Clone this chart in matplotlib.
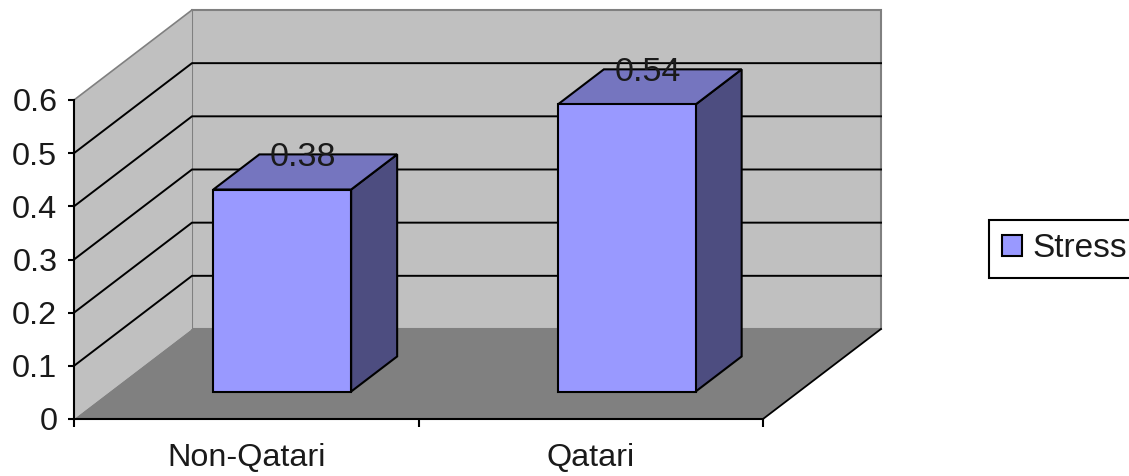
import matplotlib.pyplot as plt
from matplotlib.patches import Polygon, Patch

plt.rcParams['font.family'] = ['Liberation Sans', 'DejaVu Sans']

categories = ['Non-Qatari', 'Qatari']
stress = [0.38, 0.54]
y_ticks = [0, 0.1, 0.2, 0.3, 0.4, 0.5, 0.6]
y_labels = ['0', '0.1', '0.2', '0.3', '0.4', '0.5', '0.6']

wall_color = '#c0c0c0'
floor_color = '#808080'
bar_front = '#9999ff'
bar_top = '#7575bf'
bar_side = '#4d4d80'
text_color = '#1a1a1a'

# how far the back of the box is shifted from the front, in data units
shift_x = 0.3425
shift_y = 0.1693

y_top = y_ticks[-1]
x_right = len(categories)


def project(x, y, depth):
    return (x + depth * shift_x, y + depth * shift_y)


def face(ax, points, color, zorder, edge='black', lw=1.5):
    ax.add_patch(Polygon(points, closed=True, facecolor=color, edgecolor=edge,
                         linewidth=lw, zorder=zorder, clip_on=False,
                         joinstyle='miter'))


fig = plt.figure(figsize=(11.29, 4.76), dpi=100)
ax = fig.add_axes([74 / 1129, 57 / 476, 689 / 1129, 319 / 476])
ax.set_xlim(0, x_right)
ax.set_ylim(0, y_top)
ax.patch.set_visible(False)

# back wall, left wall and floor
face(ax, [project(0, 0, 1), project(x_right, 0, 1),
          project(x_right, y_top, 1), project(0, y_top, 1)],
     wall_color, 1, edge='#808080')
face(ax, [project(0, 0, 0), project(0, 0, 1),
          project(0, y_top, 1), project(0, y_top, 0)],
     wall_color, 1, edge='none', lw=0)
ax.plot(*zip(project(0, y_top, 0), project(0, y_top, 1)),
        color='#808080', lw=1.2, zorder=1.5, clip_on=False)
face(ax, [project(0, 0, 0), project(x_right, 0, 0),
          project(x_right, 0, 1), project(0, 0, 1)],
     floor_color, 2, edge='none', lw=0)
ax.plot(*zip(project(x_right, 0, 0), project(x_right, 0, 1)),
        color='black', lw=1.3, zorder=2.5, clip_on=False)

# gridlines run along the left wall and then across the back wall
for tick in y_ticks[1:-1]:
    pts = [project(0, tick, 0), project(0, tick, 1), project(x_right, tick, 1)]
    ax.plot([p[0] for p in pts], [p[1] for p in pts], color='black', lw=1.4,
            zorder=3, clip_on=False, solid_joinstyle='miter')

# bars
bar_width = 0.4
depth_near = 0.305
depth_far = 0.695
for i, value in enumerate(stress):
    left = i + 0.5 - bar_width / 2
    right = i + 0.5 + bar_width / 2
    face(ax, [project(right, 0, depth_near), project(right, 0, depth_far),
              project(right, value, depth_far), project(right, value, depth_near)],
         bar_side, 4)
    face(ax, [project(left, value, depth_near), project(right, value, depth_near),
              project(right, value, depth_far), project(left, value, depth_far)],
         bar_top, 4)
    face(ax, [project(left, 0, depth_near), project(right, 0, depth_near),
              project(right, value, depth_near), project(left, value, depth_near)],
         bar_front, 5)
    ax.annotate(str(value), xy=project(i + 0.5, value, depth_far),
                xytext=(-18.2, -2.2), textcoords='offset points',
                ha='center', va='center', fontsize=24.5, color=text_color,
                zorder=6, annotation_clip=False)

# axes
for side in ['top', 'right']:
    ax.spines[side].set_visible(False)
for side in ['left', 'bottom']:
    ax.spines[side].set_linewidth(1.5)
    ax.spines[side].set_zorder(7)

ax.set_yticks(y_ticks)
ax.set_yticklabels(y_labels, fontsize=23.3, color=text_color)
ax.tick_params(axis='y', length=4, width=1.5, pad=8)
ax.set_xticks(range(x_right + 1))
ax.set_xticklabels([])
ax.tick_params(axis='x', which='major', length=5.5, width=1.5)
ax.set_xticks([i + 0.5 for i in range(x_right)], minor=True)
ax.set_xticklabels(categories, minor=True, fontsize=23.3, color=text_color)
ax.tick_params(axis='x', which='minor', length=0, pad=17.5)

ax.legend(handles=[Patch(facecolor=bar_front, edgecolor='black', linewidth=1.5,
                         label='Stress')],
          loc='upper left', bbox_to_anchor=(989 / 1129, 1 - 220 / 476),
          bbox_transform=fig.transFigure, borderaxespad=0, fontsize=24,
          fancybox=False, framealpha=1, edgecolor='black',
          handlelength=0.6, handleheight=0.6, handletextpad=0.3,
          borderpad=0.4, labelcolor=text_color).get_frame().set_linewidth(1.5)

fig.savefig('out.png', dpi=100)
